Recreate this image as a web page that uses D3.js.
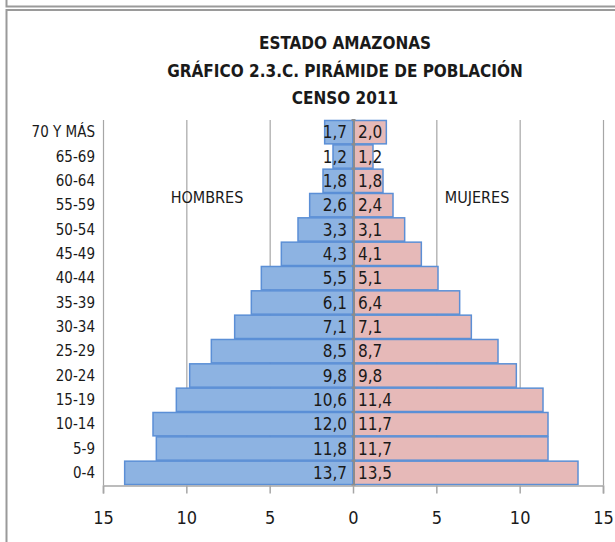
<!DOCTYPE html>
<html>
<head>
<meta charset="utf-8">
<script src="https://cdn.jsdelivr.net/npm/d3@7"></script>
<style>
  html, body { margin: 0; padding: 0; background: #fff; }
  svg text { font-family: "Liberation Sans Narrow", "DejaVu Sans Condensed", sans-serif; fill: #1a1a1a; }
</style>
</head>
<body>
<svg id="chart" width="615" height="542"></svg>
<script>
// Age groups, top to bottom
const ageGroups = ['70 Y MÁS', '65-69', '60-64', '55-59', '50-54', '45-49', '40-44',
    '35-39', '30-34', '25-29', '20-24', '15-19', '10-14', '5-9', '0-4'];
// Percent of population
const hombres = [1.7, 1.2, 1.8, 2.6, 3.3, 4.3, 5.5, 6.1, 7.1, 8.5, 9.8, 10.6, 12.0, 11.8, 13.7];
const mujeres = [2.0, 1.2, 1.8, 2.4, 3.1, 4.1, 5.1, 6.4, 7.1, 8.7, 9.8, 11.4, 11.7, 11.7, 13.5];
const xTicks = [-15, -10, -5, 0, 5, 10, 15];
const titleLines = ['ESTADO AMAZONAS', 'GRÁFICO 2.3.C. PIRÁMIDE DE POBLACIÓN', 'CENSO 2011'];

const svg = d3.select('#chart');

// Outer frame (double line at the top)
const frame = svg.append('g').attr('stroke', '#9a9a9a').attr('stroke-width', 2).attr('fill', 'none');
frame.append('path').attr('d', 'M6.5,0V6.5H615');
frame.append('path').attr('d', 'M6.5,542V10H615');

const x = d3.scaleLinear().domain([-15, 15]).range([103, 603]);
const y = d3.scaleBand().domain(ageGroups).range([120, 485]).paddingInner(0.04).paddingOuter(0.02);

// Gridlines
svg.append('g')
    .selectAll('line')
    .data(xTicks)
    .enter().append('line')
    .attr('x1', d => x(d) + 0.5).attr('x2', d => x(d) + 0.5)
    .attr('y1', 120).attr('y2', 485)
    .attr('stroke', '#a6a6a6').attr('stroke-width', 1.2);

// Title
svg.append('g')
    .selectAll('text')
    .data(titleLines)
    .enter().append('text')
    .attr('x', 345)
    .attr('y', (d, i) => 49 + i * 27.5)
    .attr('text-anchor', 'middle')
    .attr('font-size', 17)
    .attr('font-weight', 'bold')
    .text(d => d);

// Bars
const bars = svg.append('g');
bars.selectAll('.h')
    .data(hombres)
    .enter().append('rect')
    .attr('x', d => x(-d))
    .attr('y', (d, i) => y(ageGroups[i]))
    .attr('width', d => x(0) - x(-d))
    .attr('height', y.bandwidth())
    .attr('fill', '#8db3e2')
    .attr('stroke', '#5b8fd6')
    .attr('stroke-width', 1.5);

bars.selectAll('.m')
    .data(mujeres)
    .enter().append('rect')
    .attr('x', x(0))
    .attr('y', (d, i) => y(ageGroups[i]))
    .attr('width', d => x(d) - x(0))
    .attr('height', y.bandwidth())
    .attr('fill', '#e6b9b8')
    .attr('stroke', '#5b8fd6')
    .attr('stroke-width', 1.5);

// Center axis
const yAxis = svg.append('g')
    .attr('transform', `translate(${x(0) + 0.5},0)`)
    .call(d3.axisLeft(y).tickSize(0).tickFormat(''));
yAxis.select('.domain').attr('stroke', '#8c8c8c').attr('stroke-width', 2);
yAxis.selectAll('.b')
    .data(d3.range(ageGroups.length + 1))
    .enter().append('line')
    .attr('x1', -2).attr('x2', 2)
    .attr('y1', i => 120 + i * (365 / ageGroups.length))
    .attr('y2', i => 120 + i * (365 / ageGroups.length))
    .attr('stroke', '#8c8c8c').attr('stroke-width', 2);

// Value labels
const fmt = v => d3.format('.1f')(v).replace('.', ',');
svg.append('g')
    .selectAll('text')
    .data(hombres)
    .enter().append('text')
    .attr('x', x(0) - 6)
    .attr('y', (d, i) => y(ageGroups[i]) + y.bandwidth() / 2 + 6)
    .attr('text-anchor', 'end')
    .attr('font-size', 17)
    .text(fmt);
svg.append('g')
    .selectAll('text')
    .data(mujeres)
    .enter().append('text')
    .attr('x', x(0) + 5)
    .attr('y', (d, i) => y(ageGroups[i]) + y.bandwidth() / 2 + 6)
    .attr('font-size', 17)
    .text(fmt);

// Category labels
svg.append('g')
    .selectAll('text')
    .data(ageGroups)
    .enter().append('text')
    .attr('x', 95)
    .attr('y', d => y(d) + y.bandwidth() / 2 + 5)
    .attr('text-anchor', 'end')
    .attr('font-size', 15)
    .text(d => d);

// Bottom axis
const xAxis = svg.append('g')
    .attr('transform', 'translate(0,485.5)')
    .call(d3.axisBottom(x).tickValues(xTicks).tickSize(8).tickPadding(18).tickFormat(d => Math.abs(d)));
xAxis.select('.domain').attr('stroke', '#a6a6a6').attr('stroke-width', 1.5);
xAxis.selectAll('.tick line').attr('stroke', '#a6a6a6').attr('stroke-width', 1.5);
xAxis.selectAll('.tick text')
    .attr('font-size', 18)
    .style('font-family', '"Liberation Sans Narrow", "DejaVu Sans Condensed", sans-serif')
    .attr('fill', '#1a1a1a');

// Series labels
svg.append('text').attr('x', 207).attr('y', 203).attr('text-anchor', 'middle').attr('font-size', 16).text('HOMBRES');
svg.append('text').attr('x', 477).attr('y', 203).attr('text-anchor', 'middle').attr('font-size', 16).text('MUJERES');
</script>
</body>
</html>
